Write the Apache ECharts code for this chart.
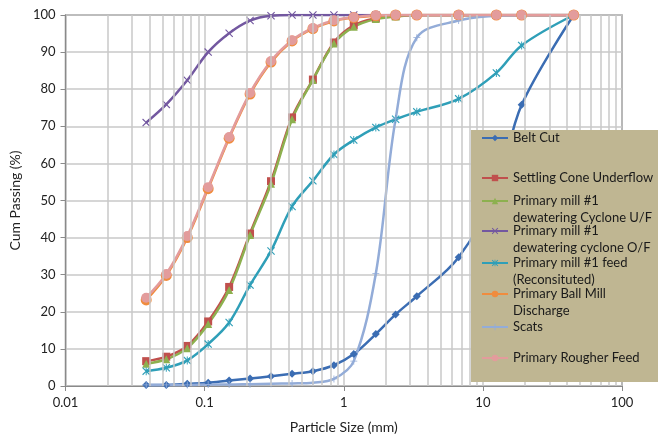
<!DOCTYPE html>
<html>
<head>
<meta charset="utf-8">
<script src="https://cdn.jsdelivr.net/npm/echarts@6/dist/echarts.min.js"></script>
<style>
  html, body { margin: 0; padding: 0; background: #fff; }
  #main { width: 666px; height: 439px; }
</style>
</head>
<body>
<div id="main"></div>
<script>
// particle size (mm) of each sieve
var sizes = [0.038, 0.053, 0.075, 0.106, 0.15, 0.212, 0.3, 0.425, 0.6, 0.85, 1.18, 1.7, 2.36, 3.35, 6.7, 12.5, 19, 45];

// cumulative % passing
var beltCut    = [0.3, 0.3, 0.6, 0.9, 1.5, 2.0, 2.6, 3.3, 4.0, 5.6, 8.6, 14.0, 19.3, 24.2, 34.7, 53, 75.8, 100];
var settling   = [6.7, 7.9, 10.8, 17.4, 26.7, 41.1, 55.2, 72.4, 82.6, 92.6, 97.2, 99.1, 99.7, 100, 100, 100, 100, 100];
var cycloneUF  = [6.0, 7.2, 10.2, 16.7, 25.9, 40.7, 54.5, 71.9, 82.5, 92.3, 96.8, 98.9, 99.6, 100, 100, 100, 100, 100];
var cycloneOF  = [71.0, 75.9, 82.4, 90.0, 95.1, 98.5, 99.8, 100, 100, 100, 100, 100, 100, 100, 100, 100, 100, 100];
var millFeed   = [4.0, 4.9, 6.9, 11.3, 17.1, 27.2, 36.4, 48.4, 55.3, 62.4, 66.3, 69.7, 71.9, 73.9, 77.4, 84.4, 91.8, 100];
var ballMill   = [23.2, 29.8, 40.0, 53.2, 66.8, 78.7, 87.3, 93.0, 96.3, 98.4, 99.3, 99.8, 100, 100, 100, 100, 100, 100];
var scats      = [0.3, 0.3, 0.3, 0.4, 0.4, 0.5, 0.6, 0.7, 0.9, 1.9, 6.7, 30.3, 72, 93.9, 98.5, 99.8, 100, 100];
var rougher    = [23.8, 30.2, 40.4, 53.6, 67.1, 79.0, 87.6, 93.2, 96.5, 98.6, 99.4, 99.9, 100, 100, 100, 100, 100, 100];

var yTicks = [0, 10, 20, 30, 40, 50, 60, 70, 80, 90, 100];

// minor log grid lines 2..9 in each decade
var minorGrid = [];
[0.01, 0.1, 1, 10].forEach(function (d) {
  for (var k = 2; k <= 9; k++) minorGrid.push(+(d * k).toPrecision(3));
});

var FONT = 'Lato';
var GRID_COLOR = '#c9c9c9';

var crossPath = 'path://M0,1L1,0L5,4L9,0L10,1L6,5L10,9L9,10L5,6L1,10L0,9L4,5Z';
var starPath = 'path://M0,1L1,0L5,4L9,0L10,1L6,5L10,9L9,10L5,6L1,10L0,9L4,5ZM4.4,0L5.6,0L5.6,10L4.4,10Z';
var plusPath = 'path://M4.4,0L5.6,0L5.6,4.4L10,4.4L10,5.6L5.6,5.6L5.6,10L4.4,10L4.4,5.6L0,5.6L0,4.4L4.4,4.4Z';

function pairs(vals) {
  return sizes.map(function (s, i) { return [s, vals[i]]; });
}

var seriesDefs = [
  { name: 'Belt Cut', data: beltCut, color: '#3b6db3', symbol: 'diamond', size: 8 },
  { name: 'Settling Cone Underflow', data: settling, color: '#c0504d', symbol: 'rect', size: 8 },
  { name: 'Primary mill #1\ndewatering Cyclone U/F', data: cycloneUF, color: '#8db04f', symbol: 'triangle', size: 8 },
  { name: 'Primary mill #1\ndewatering cyclone O/F', data: cycloneOF, color: '#7358a0', symbol: crossPath, size: 8 },
  { name: 'Primary mill #1 feed\n(Reconsituted)', data: millFeed, color: '#2f9fb8', symbol: starPath, size: 8 },
  { name: 'Primary Ball Mill\nDischarge', data: ballMill, color: '#f08c3e', symbol: 'circle', size: 11 },
  { name: 'Scats', data: scats, color: '#93acd8', symbol: plusPath, size: 7 },
  { name: 'Primary Rougher Feed', data: rougher, color: '#e39c9c', symbol: 'circle', size: 10 }
];

// y centre of the first text line of each legend entry
var legendY = [138, 178, 201, 231, 263, 294, 327, 358];

var series = seriesDefs.map(function (d) {
  return {
    name: d.name,
    type: 'line',
    smooth: 0.35,
    data: pairs(d.data),
    symbol: d.symbol,
    symbolSize: d.size,
    showAllSymbol: true,
    lineStyle: { color: d.color, width: 2.5 },
    itemStyle: { color: d.color },
    z: 2
  };
});

// grid lines between decades
series.unshift({
  name: 'minor',
  type: 'line',
  data: [],
  silent: true,
  z: 1,
  markLine: {
    silent: true,
    symbol: 'none',
    label: { show: false },
    lineStyle: { color: GRID_COLOR, width: 1.5, type: 'solid' },
    data: minorGrid.map(function (v) { return { xAxis: v }; })
  }
});

// two-line names get an empty line in front so the icon sits on the first line
var legends = seriesDefs.map(function (d, i) {
  var twoLine = d.name.indexOf('\n') >= 0;
  return {
    data: [d.name],
    left: 481,
    top: legendY[i] - (twoLine ? 25.5 : 8.5),
    padding: 0,
    itemWidth: 26,
    itemHeight: 8,
    zlevel: 1,
    z: 5,
    selectedMode: false,
    formatter: function (name) { return twoLine ? '\n' + name : name; },
    textStyle: {
      fontFamily: FONT,
      fontSize: 13,
      color: '#1a1a1a',
      lineHeight: 17
    }
  };
});

var chart = echarts.init(document.getElementById('main'), null, { renderer: 'canvas' });

chart.setOption({
  animation: false,
  backgroundColor: '#fff',
  grid: {
    left: 63, right: 44, top: 15, bottom: 50,
    show: true,
    borderColor: '#3a3a3a',
    borderWidth: 1.2
  },
  graphic: [{
    type: 'rect',
    zlevel: 1,
    z: 1,
    shape: { x: 471, y: 130, width: 187, height: 252 },
    style: { fill: '#bfb692' }
  }],
  legend: legends,
  xAxis: {
    type: 'log',
    logBase: 10,
    min: 0.01,
    max: 100,
    name: 'Particle Size (mm)',
    nameLocation: 'middle',
    nameGap: 34,
    nameTextStyle: { fontFamily: FONT, fontSize: 14, color: '#222' },
    axisLine: { onZero: false, lineStyle: { color: '#8a8a8a', width: 1.2 } },
    axisTick: { show: true, length: 5, lineStyle: { color: '#8a8a8a' } },
    axisLabel: {
      fontFamily: FONT, fontSize: 13, color: '#222', margin: 10,
      formatter: function (v) { return String(+v.toPrecision(3)); }
    },
    splitLine: { show: true, lineStyle: { color: GRID_COLOR, width: 1.5 } }
  },
  yAxis: {
    type: 'value',
    min: yTicks[0],
    max: yTicks[yTicks.length - 1],
    interval: 10,
    name: 'Cum Passing (%)',
    nameLocation: 'middle',
    nameGap: 40,
    nameTextStyle: { fontFamily: FONT, fontSize: 14, color: '#222' },
    axisLine: { show: true, lineStyle: { color: '#8a8a8a', width: 1.2 } },
    axisTick: { show: true, length: 5, lineStyle: { color: '#8a8a8a' } },
    axisLabel: { fontFamily: FONT, fontSize: 13, color: '#222', margin: 10 },
    splitLine: { show: true, lineStyle: { color: GRID_COLOR, width: 1.5 } }
  },
  series: series
});
</script>
</body>
</html>
